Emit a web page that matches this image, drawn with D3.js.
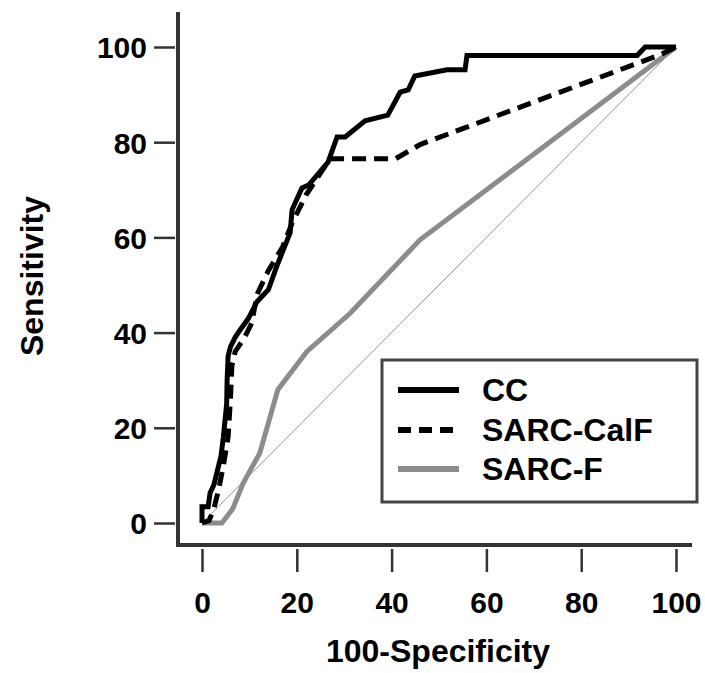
<!DOCTYPE html>
<html>
<head>
<meta charset="utf-8">
<script src="https://cdn.jsdelivr.net/npm/d3@7"></script>
<style>
  body { margin: 0; background: #fff; }
  text { font-family: "Liberation Sans", Arial, sans-serif; font-weight: bold; fill: #000; }
</style>
</head>
<body>
<svg id="chart" width="705" height="673"></svg>
<script>
// ROC curves (100-specificity, sensitivity)
var ccPoints = [[0,0],[0,3.4],[1.3,3.4],[1.7,6.3],[2.5,8],[3,10],[4,14],[4.5,18],[5.2,25],
  [5.3,30],[5.5,35],[6,37],[7,39],[8,40.5],[9.8,43],[11.6,46.5],[14,49],[15.8,54],[18.6,61],
  [19,65.8],[20,68],[21.1,70.4],[22.5,71],[26.6,75.8],[28.5,81.1],[30.2,81.1],[34.4,84.5],
  [39.2,85.7],[41.8,90.5],[43.5,91],[44.9,93.9],[51.7,95.2],[55.5,95.2],[55.9,98.2],
  [91.8,98.2],[93.5,100],[100,100]];
var calfPoints = [[0,0],[1.5,0.5],[2.5,3],[3.5,7],[4.5,12],[5.5,18],[6,26],[6.3,33],[7,36],
  [9,39],[10.5,42],[11.6,48],[14,53],[17,58],[19,63],[22,69],[27,76.5],[40.8,76.5],
  [46,79.5],[97,98.5],[100,100]];
var sarcfPoints = [[0,0],[4.2,0],[6.5,3],[8.7,8.4],[12.2,14.7],[16,28],[22.1,36],
  [31.2,44],[46,59.5],[100,100]];

var xTicks = [0, 20, 40, 60, 80, 100];
var yTicks = [0, 20, 40, 60, 80, 100];
var seriesNames = ['CC', 'SARC-CalF', 'SARC-F'];

var svg = d3.select('#chart');

var x = d3.scaleLinear().domain([0, 100]).range([202, 676]);
var y = d3.scaleLinear().domain([0, 100]).range([523, 47]);

var styles = [
  {color: '#000', dash: null, width: 5},
  {color: '#000', dash: '14,8', width: 5},
  {color: '#8c8c8c', dash: null, width: 5}
];

// reference diagonal
svg.append('line')
  .attr('x1', x(0)).attr('y1', y(0))
  .attr('x2', x(100)).attr('y2', y(100))
  .attr('stroke', '#444').attr('stroke-width', 0.6);

var line = d3.line()
  .x(function(d) { return x(d[0]); })
  .y(function(d) { return y(d[1]); });

// draw grey first so black lines sit on top
[[sarcfPoints, 2], [calfPoints, 1], [ccPoints, 0]].forEach(function(s) {
  var st = styles[s[1]];
  svg.append('path')
    .datum(s[0])
    .attr('d', line)
    .attr('fill', 'none')
    .attr('stroke', st.color)
    .attr('stroke-width', st.width)
    .attr('stroke-linejoin', 'miter')
    .attr('stroke-dasharray', st.dash);
});

// L-shaped box
svg.append('path')
  .attr('d', 'M178,12 V545 H692')
  .attr('fill', 'none')
  .attr('stroke', '#333')
  .attr('stroke-width', 4);

// axes (ticks only, the box above is the axis line)
var yAxis = svg.append('g')
  .attr('transform', 'translate(175,0)')
  .call(d3.axisLeft(y).tickValues(yTicks).tickSize(21).tickPadding(7).tickSizeOuter(0));
var xAxis = svg.append('g')
  .attr('transform', 'translate(0,549)')
  .call(d3.axisBottom(x).tickValues(xTicks).tickSize(23).tickPadding(20).tickSizeOuter(0));

[yAxis, xAxis].forEach(function(a) {
  a.select('.domain').remove();
  a.selectAll('.tick line').attr('stroke', '#333').attr('stroke-width', 2.5);
  a.selectAll('.tick text')
    .attr('font-family', '"Liberation Sans", Arial, sans-serif')
    .attr('font-weight', 'bold')
    .attr('font-size', 30)
    .attr('fill', '#000');
});
yAxis.selectAll('.tick text').attr('dy', '0.36em');
xAxis.selectAll('.tick text').attr('dy', '0.71em');

// axis titles
svg.append('text')
  .attr('x', 438).attr('y', 662)
  .attr('text-anchor', 'middle')
  .attr('font-size', 32)
  .text('100-Specificity');
svg.append('text')
  .attr('transform', 'translate(43,276) rotate(-90)')
  .attr('text-anchor', 'middle')
  .attr('font-size', 32)
  .text('Sensitivity');

// legend
var legend = svg.append('g');
legend.append('rect')
  .attr('x', 382).attr('y', 360)
  .attr('width', 315).attr('height', 142)
  .attr('fill', '#fff')
  .attr('stroke', '#444')
  .attr('stroke-width', 3);
var rowY = [390, 430, 469];
seriesNames.forEach(function(name, i) {
  legend.append('line')
    .attr('x1', 398).attr('x2', 459)
    .attr('y1', rowY[i]).attr('y2', rowY[i])
    .attr('stroke', styles[i].color)
    .attr('stroke-width', 6)
    .attr('stroke-dasharray', i === 1 ? '13,8' : null);
  legend.append('text')
    .attr('x', 482).attr('y', rowY[i] + 11)
    .attr('font-size', 32)
    .text(name);
});
</script>
</body>
</html>
